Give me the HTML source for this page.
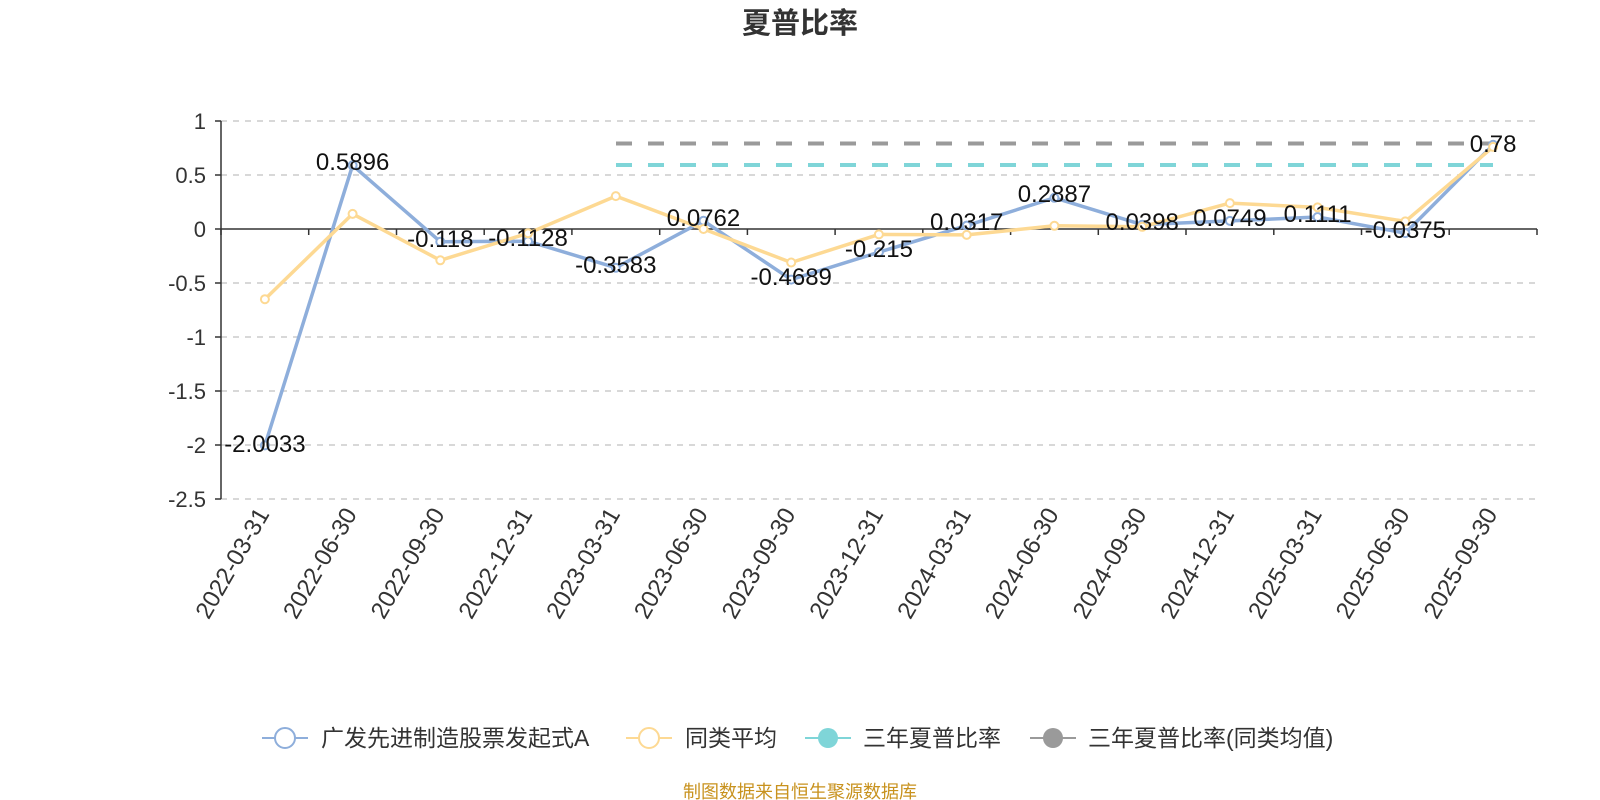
<!DOCTYPE html>
<html><head><meta charset="utf-8"><style>
html,body{margin:0;padding:0;background:#fff;}
svg{display:block;}
text{font-family:"Liberation Sans","Noto Sans CJK SC",sans-serif;}
</style></head><body>
<svg width="1600" height="800" viewBox="0 0 1600 800" xmlns="http://www.w3.org/2000/svg">
<text x="800" y="33" text-anchor="middle" font-size="29" font-weight="bold" fill="#333">夏普比率</text>
<g stroke="#ccc" stroke-width="1.5" stroke-dasharray="6,6">
<line x1="221" y1="121" x2="1537" y2="121"/>
<line x1="221" y1="175" x2="1537" y2="175"/>
<line x1="221" y1="283" x2="1537" y2="283"/>
<line x1="221" y1="337" x2="1537" y2="337"/>
<line x1="221" y1="391" x2="1537" y2="391"/>
<line x1="221" y1="445" x2="1537" y2="445"/>
<line x1="221" y1="499" x2="1537" y2="499"/>
</g>
<line x1="221" y1="121" x2="221" y2="499" stroke="#333" stroke-width="1.5"/>
<g stroke="#333" stroke-width="1.5">
<line x1="215" y1="121" x2="221" y2="121"/><line x1="215" y1="175" x2="221" y2="175"/>
<line x1="215" y1="229" x2="221" y2="229"/><line x1="215" y1="283" x2="221" y2="283"/>
<line x1="215" y1="337" x2="221" y2="337"/><line x1="215" y1="391" x2="221" y2="391"/>
<line x1="215" y1="445" x2="221" y2="445"/><line x1="215" y1="499" x2="221" y2="499"/>
</g>
<g font-size="22" fill="#333" text-anchor="end">
<text x="206" y="129">1</text><text x="206" y="183">0.5</text><text x="206" y="237">0</text>
<text x="206" y="291">-0.5</text><text x="206" y="345">-1</text><text x="206" y="399">-1.5</text>
<text x="206" y="453">-2</text><text x="206" y="507">-2.5</text>
</g>
<line x1="221" y1="229" x2="1537" y2="229" stroke="#333" stroke-width="1.5"/>
<g stroke="#333" stroke-width="1.5">
<line x1="221" y1="229" x2="221" y2="235"/><line x1="308.7" y1="229" x2="308.7" y2="235"/>
<line x1="396.5" y1="229" x2="396.5" y2="235"/><line x1="484.2" y1="229" x2="484.2" y2="235"/>
<line x1="571.9" y1="229" x2="571.9" y2="235"/><line x1="659.7" y1="229" x2="659.7" y2="235"/>
<line x1="747.4" y1="229" x2="747.4" y2="235"/><line x1="835.1" y1="229" x2="835.1" y2="235"/>
<line x1="922.8" y1="229" x2="922.8" y2="235"/><line x1="1010.6" y1="229" x2="1010.6" y2="235"/>
<line x1="1098.3" y1="229" x2="1098.3" y2="235"/><line x1="1186" y1="229" x2="1186" y2="235"/>
<line x1="1273.8" y1="229" x2="1273.8" y2="235"/><line x1="1361.5" y1="229" x2="1361.5" y2="235"/>
<line x1="1449.2" y1="229" x2="1449.2" y2="235"/><line x1="1537" y1="229" x2="1537" y2="235"/>
</g>
<g font-size="24" fill="#333" text-anchor="end">
<text transform="translate(270,514) rotate(-60)">2022-03-31</text>
<text transform="translate(357.6,514) rotate(-60)">2022-06-30</text>
<text transform="translate(445.3,514) rotate(-60)">2022-09-30</text>
<text transform="translate(533,514) rotate(-60)">2022-12-31</text>
<text transform="translate(620.8,514) rotate(-60)">2023-03-31</text>
<text transform="translate(708.5,514) rotate(-60)">2023-06-30</text>
<text transform="translate(796.2,514) rotate(-60)">2023-09-30</text>
<text transform="translate(883.9,514) rotate(-60)">2023-12-31</text>
<text transform="translate(971.7,514) rotate(-60)">2024-03-31</text>
<text transform="translate(1059.4,514) rotate(-60)">2024-06-30</text>
<text transform="translate(1147.2,514) rotate(-60)">2024-09-30</text>
<text transform="translate(1234.9,514) rotate(-60)">2024-12-31</text>
<text transform="translate(1322.6,514) rotate(-60)">2025-03-31</text>
<text transform="translate(1410.3,514) rotate(-60)">2025-06-30</text>
<text transform="translate(1498.1,514) rotate(-60)">2025-09-30</text>
</g>
<line x1="616" y1="143.5" x2="1493" y2="143.5" stroke="#9a9a9a" stroke-width="4" stroke-dasharray="16,16"/>
<line x1="616" y1="165" x2="1493" y2="165" stroke="#7fd5d8" stroke-width="4" stroke-dasharray="16,16"/>
<polyline fill="none" stroke="#8eaedb" stroke-width="3.5" stroke-linejoin="round" points="264.9,445.4 352.6,165.3 440.3,241.7 528,241.2 615.8,267.7 703.5,220.8 791.2,279.6 878.9,252.2 966.7,225.6 1054.4,197.8 1142.2,224.7 1229.9,220.9 1317.6,217 1405.3,233.1 1493.1,144.8"/>
<g fill="#fff" stroke="#8eaedb" stroke-width="2">
<circle cx="264.9" cy="445.4" r="4"/><circle cx="352.6" cy="165.3" r="4"/><circle cx="440.3" cy="241.7" r="4"/>
<circle cx="528" cy="241.2" r="4"/><circle cx="615.8" cy="267.7" r="4"/><circle cx="703.5" cy="220.8" r="4"/>
<circle cx="791.2" cy="279.6" r="4"/><circle cx="878.9" cy="252.2" r="4"/><circle cx="966.7" cy="225.6" r="4"/>
<circle cx="1054.4" cy="197.8" r="4"/><circle cx="1142.2" cy="224.7" r="4"/><circle cx="1229.9" cy="220.9" r="4"/>
<circle cx="1317.6" cy="217" r="4"/><circle cx="1405.3" cy="233.1" r="4"/><circle cx="1493.1" cy="144.8" r="4"/>
</g>
<polyline fill="none" stroke="#fdd993" stroke-width="3.5" stroke-linejoin="round" points="264.9,299.2 352.6,213.9 440.3,260.3 528,233.3 615.8,196.1 703.5,229 791.2,262.5 878.9,234.4 966.7,234.9 1054.4,225.8 1142.2,226.8 1229.9,203.1 1317.6,207.4 1405.3,221.4 1493.1,146.9"/>
<g fill="#fff" stroke="#fdd993" stroke-width="2">
<circle cx="264.9" cy="299.2" r="4"/><circle cx="352.6" cy="213.9" r="4"/><circle cx="440.3" cy="260.3" r="4"/>
<circle cx="528" cy="233.3" r="4"/><circle cx="615.8" cy="196.1" r="4"/><circle cx="703.5" cy="229" r="4"/>
<circle cx="791.2" cy="262.5" r="4"/><circle cx="878.9" cy="234.4" r="4"/><circle cx="966.7" cy="234.9" r="4"/>
<circle cx="1054.4" cy="225.8" r="4"/><circle cx="1142.2" cy="226.8" r="4"/><circle cx="1229.9" cy="203.1" r="4"/>
<circle cx="1317.6" cy="207.4" r="4"/><circle cx="1405.3" cy="221.4" r="4"/><circle cx="1493.1" cy="146.9" r="4"/>
</g>
<g font-size="24" fill="#111" text-anchor="middle">
<text x="264.9" y="452">-2.0033</text><text x="352.6" y="170">0.5896</text><text x="440.3" y="247">-0.118</text>
<text x="528" y="246">-0.1128</text><text x="615.8" y="273">-0.3583</text><text x="703.5" y="226">0.0762</text>
<text x="791.2" y="285">-0.4689</text><text x="878.9" y="257">-0.215</text><text x="966.7" y="230">0.0317</text>
<text x="1054.4" y="202">0.2887</text><text x="1142.2" y="230">0.0398</text><text x="1229.9" y="226">0.0749</text>
<text x="1317.6" y="222">0.1111</text><text x="1405.3" y="238">-0.0375</text><text x="1493.1" y="152">0.78</text>
</g>
<g font-size="23" fill="#333">
<line x1="262" y1="738" x2="308" y2="738" stroke="#8eaedb" stroke-width="2"/>
<circle cx="285" cy="738" r="10" fill="#fff" stroke="#8eaedb" stroke-width="2"/>
<text x="321" y="746">广发先进制造股票发起式A</text>
<line x1="626" y1="738" x2="672" y2="738" stroke="#fdd993" stroke-width="2"/>
<circle cx="649" cy="738" r="10" fill="#fff" stroke="#fdd993" stroke-width="2"/>
<text x="685" y="746">同类平均</text>
<line x1="805" y1="738" x2="851" y2="738" stroke="#7fd5d8" stroke-width="2"/>
<circle cx="828" cy="738" r="10" fill="#7fd5d8"/>
<text x="863" y="746">三年夏普比率</text>
<line x1="1030" y1="738" x2="1076" y2="738" stroke="#9a9a9a" stroke-width="2"/>
<circle cx="1053" cy="738" r="10" fill="#9a9a9a"/>
<text x="1088" y="746">三年夏普比率(同类均值)</text>
</g>
<text x="800" y="798" text-anchor="middle" font-size="18" fill="#c8921e">制图数据来自恒生聚源数据库</text>
</svg>
</body></html>
